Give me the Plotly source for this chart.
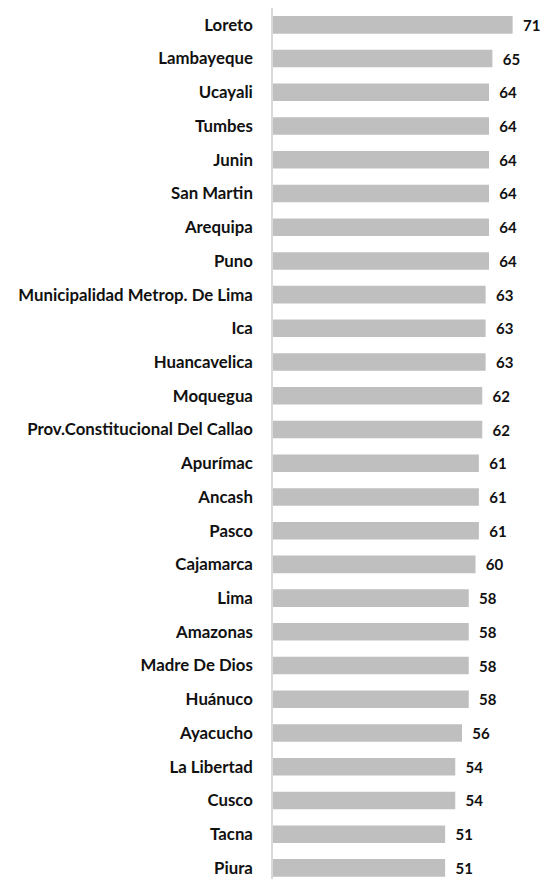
import plotly.graph_objects as go

regions = ["Loreto", "Lambayeque", "Ucayali", "Tumbes", "Junin", "San Martin",
           "Arequipa", "Puno", "Municipalidad Metrop. De Lima", "Ica",
           "Huancavelica", "Moquegua", "Prov.Constitucional Del Callao",
           "Apurímac", "Ancash", "Pasco", "Cajamarca", "Lima", "Amazonas",
           "Madre De Dios", "Huánuco", "Ayacucho", "La Libertad", "Cusco",
           "Tacna", "Piura"]
values = [71, 65, 64, 64, 64, 64, 64, 64, 63, 63, 63, 62, 62, 61, 61, 61, 60,
          58, 58, 58, 58, 56, 54, 54, 51, 51]

FONT = "Lato, sans-serif"

fig = go.Figure(go.Bar(
    x=values, y=regions, orientation="h",
    marker=dict(color="#bfbfbf", line=dict(width=0)),
    text=[str(v) for v in values], textposition="outside",
    texttemplate="  %{text}", constraintext="none",
    textfont=dict(family=FONT, size=15, color="#111111", weight="bold"),
    cliponaxis=False, hoverinfo="skip",
))

fig.update_layout(
    width=544, height=879,
    margin=dict(l=273, r=1, t=8, b=0),
    paper_bgcolor="white", plot_bgcolor="white",
    bargap=0.48, showlegend=False,
    font=dict(family=FONT, size=15, color="#111111"),
    xaxis=dict(range=[0, 80], visible=False, showgrid=False, zeroline=False),
    yaxis=dict(type="category", categoryorder="array", categoryarray=regions,
               range=[25.33, -0.5], showline=True, linecolor="#d9d9d9",
               linewidth=1.5, showgrid=False, ticks="",
               ticklabelstandoff=15,
               tickfont=dict(family=FONT, size=16.8, color="#111111", weight="bold")),
)

fig.write_html("out.html", config={"displayModeBar": False},
               post_script="document.body.style.margin='0';document.body.style.overflow='hidden';")
